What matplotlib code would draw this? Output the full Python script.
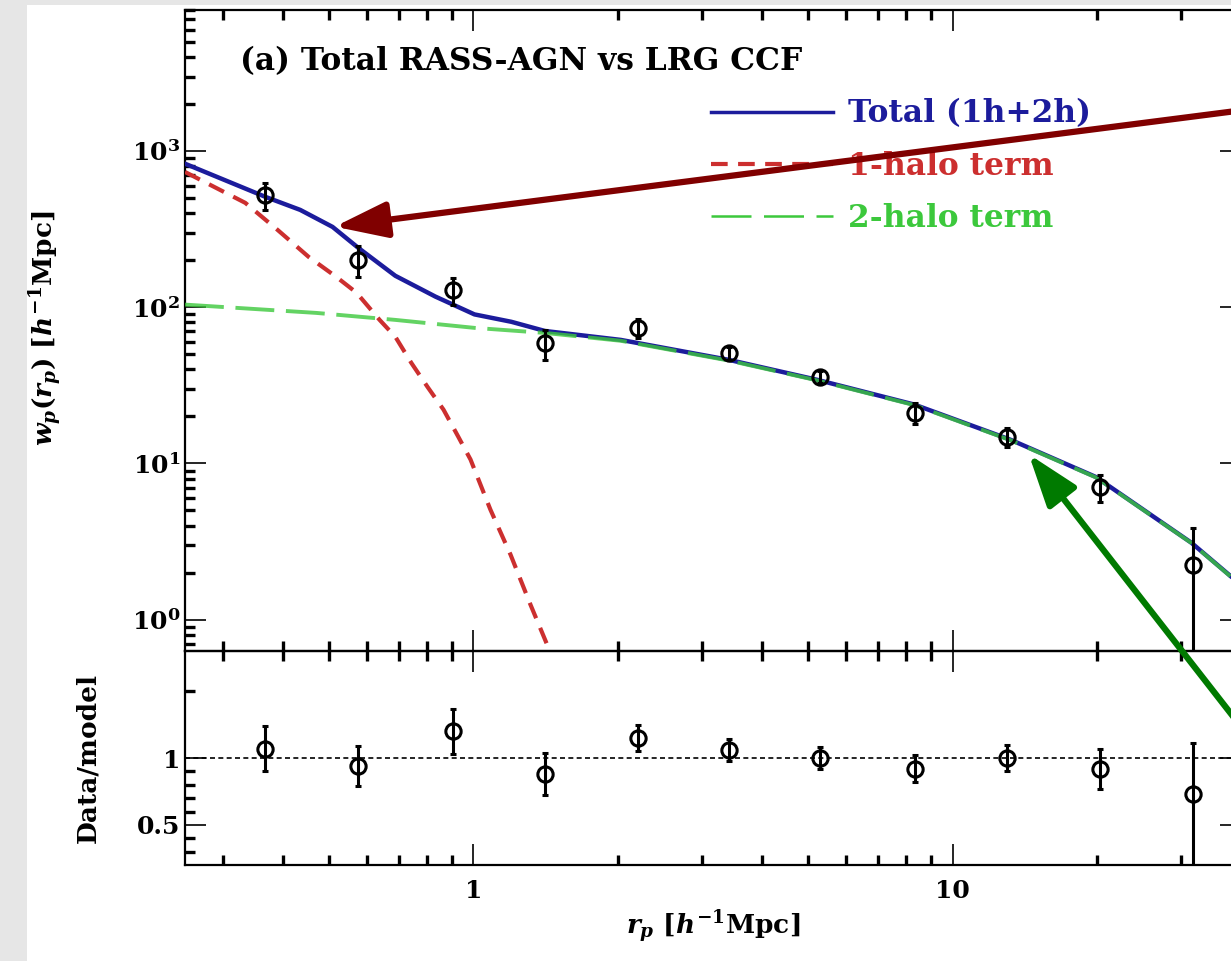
import matplotlib
matplotlib.use('Agg')
import matplotlib.pyplot as plt
from matplotlib.ticker import FixedLocator, FixedFormatter, NullFormatter, LogLocator
from matplotlib.lines import Line2D
from matplotlib.patches import Rectangle, FancyArrowPatch

plt.rcParams['font.family'] = ['DejaVu Serif']
plt.rcParams['font.weight'] = 'bold'
plt.rcParams['axes.labelweight'] = 'bold'
plt.rcParams['mathtext.fontset'] = 'custom'
plt.rcParams['mathtext.rm'] = 'DejaVu Serif:bold'
plt.rcParams['mathtext.it'] = 'DejaVu Serif:italic:bold'
plt.rcParams['mathtext.bf'] = 'DejaVu Serif:bold'

# measured points
rp = [0.368, 0.575, 0.908, 1.41, 2.21, 3.42, 5.28, 8.33, 12.97, 20.3, 31.7]
wp = [524, 201, 129, 59, 73.8, 51, 35.9, 21.1, 14.8, 7.08, 2.24]
wp_err = [105, 45, 26, 13, 10, 5, 3, 3.3, 2, 1.4, 1.63]
ratio = [1.07, 0.94, 1.20, 0.88, 1.15, 1.06, 1.0, 0.92, 1.0, 0.92, 0.73]
ratio_lo = [0.17, 0.15, 0.17, 0.16, 0.10, 0.08, 0.08, 0.10, 0.10, 0.15, 0.60]
ratio_hi = [0.17, 0.15, 0.17, 0.16, 0.10, 0.08, 0.08, 0.10, 0.10, 0.15, 0.38]

# model curves
r_tot = [0.25, 0.368, 0.435, 0.508, 0.575, 0.687, 0.833, 1.005, 1.2, 1.41, 2.03, 3.42, 5.22, 8.33, 13.2, 19.9, 31.5, 38.2, 40]
w_tot = [830, 509, 420, 327, 240, 159, 117, 90, 80.7, 70.5, 61.8, 46, 34.3, 23.8, 14.2, 8.2, 3.11, 1.88, 1.75]

r_2h = [0.25, 0.47, 0.687, 1.005, 1.41, 2.03, 3.42, 5.22, 8.33, 13.2, 19.9, 31.5, 38.2, 40]
w_2h = [104, 92, 83, 73.8, 68.5, 61, 45.5, 34, 23.6, 14.1, 8.15, 3.1, 1.87, 1.74]

r_1h = [0.25, 0.334, 0.39, 0.453, 0.518, 0.57, 0.637, 0.687, 0.742, 0.802, 0.866, 0.93, 0.986, 1.085, 1.195, 1.315, 1.44, 1.5]
w_1h = [735, 466, 313, 210, 156, 124, 83, 64.7, 44, 30.9, 22.1, 14.8, 10.6, 5.06, 2.61, 1.25, 0.64, 0.5]

BLUE = '#1c1c9c'
RED = '#cc2f2f'
GREEN = '#3cc83c'

W, H = 1231, 961
fig = plt.figure(figsize=(W / 100, H / 100), dpi=100, facecolor='#e6e6e6')
fig.patches.append(Rectangle((27 / W, 0), 1, 1 - 5 / H, transform=fig.transFigure,
                             facecolor='white', edgecolor='none', zorder=-10))

left = 185 / W
width = (1241 - 185) / W
ax = fig.add_axes([left, 1 - 651 / H, width, (651 - 10) / H])
ax2 = fig.add_axes([left, 1 - 865 / H, width, (865 - 651) / H])
for a in (ax, ax2):
    a.set_facecolor('none')
    for s in a.spines.values():
        s.set_linewidth(1.6)

# top panel
ax.plot(r_tot, w_tot, color=BLUE, lw=3.2, zorder=3)
ax.plot(r_1h, w_1h, color=RED, lw=3.0, dashes=(4, 2.5), zorder=4)
ax.plot(r_2h, w_2h, color=GREEN, lw=2.8, dashes=(10, 3), alpha=0.8, zorder=4)
ax.errorbar(rp, wp, yerr=wp_err, fmt='o', ms=11, mfc='none', mec='black', mew=2.2,
            ecolor='black', elinewidth=2.2, capsize=2, capthick=2, zorder=5)
ax.set_xscale('log')
ax.set_yscale('log')
ax.set_xlim(0.25, 40)
ax.set_ylim(0.63, 8000)

fig.text(240 / W, 1 - 62 / H, '(a) Total RASS-AGN vs LRG CCF',
         fontsize=22.5, fontweight='bold', va='center', ha='left')

handles = [Line2D([], [], color=BLUE, lw=2.5),
           Line2D([], [], color=RED, lw=3, dashes=(4, 2.5)),
           Line2D([], [], color=GREEN, lw=1.8, dashes=(16, 5))]
leg = ax.legend(handles, ['Total (1h+2h)', '1-halo term', '2-halo term'],
                loc='upper left', bbox_to_anchor=(0.498, 0.862), frameon=False,
                prop={'size': 22.5, 'weight': 'bold'}, handlelength=3.9,
                handletextpad=0.5, labelspacing=0.68, borderpad=0, borderaxespad=0)
for t, c in zip(leg.get_texts(), [BLUE, RED, GREEN]):
    t.set_color(c)

ax.set_ylabel(r'$w_p(r_p)$ [$h^{-1}$Mpc]', fontsize=19)
ax.yaxis.set_major_locator(FixedLocator([1, 10, 100, 1000]))
ax.yaxis.set_major_formatter(FixedFormatter([r'$\mathbf{10^0}$', r'$\mathbf{10^1}$',
                                             r'$\mathbf{10^2}$', r'$\mathbf{10^3}$']))
ax.yaxis.set_minor_locator(LogLocator(base=10, subs=range(2, 10), numticks=20))
ax.yaxis.set_minor_formatter(NullFormatter())

# bottom panel
ax2.axhline(1.0, color='black', lw=1.2, dashes=(3, 2), zorder=1)
ax2.errorbar(rp, ratio, yerr=[ratio_lo, ratio_hi], fmt='o', ms=11, mfc='none', mec='black',
             mew=2.2, ecolor='black', elinewidth=2.2, capsize=2, capthick=2, zorder=5)
ax2.set_xscale('log')
ax2.set_xlim(0.25, 40)
ax2.set_ylim(0.2, 1.8)
ax2.set_ylabel('Data/model', fontsize=19)
ax2.set_xlabel(r'$r_p$ [$h^{-1}$Mpc]', fontsize=19, labelpad=4)
ax2.yaxis.set_major_locator(FixedLocator([0.5, 1.0]))
ax2.yaxis.set_major_formatter(FixedFormatter(['0.5', '1']))
ax2.yaxis.set_minor_locator(FixedLocator([0.3, 0.4, 0.6, 0.7, 0.8, 0.9, 1.5]))

for a in (ax, ax2):
    a.xaxis.set_major_locator(FixedLocator([1, 10]))
    a.xaxis.set_major_formatter(FixedFormatter(['1', '10']))
    a.xaxis.set_minor_locator(LogLocator(base=10, subs=range(2, 10), numticks=20))
    a.xaxis.set_minor_formatter(NullFormatter())
    a.tick_params(which='both', direction='in', top=True, right=True, labelsize=18)
    a.tick_params(which='major', length=15, width=1.2)
    a.tick_params(which='minor', length=7, width=2.4)
ax.tick_params(axis='x', labelbottom=False)
ax2.tick_params(axis='x', which='major', pad=10)

ax.yaxis.set_label_coords(65 / W, 1 - 328 / H, transform=fig.transFigure)
ax2.yaxis.set_label_coords(100 / W, 1 - 758 / H, transform=fig.transFigure)

# annotation arrows
fig.patches.append(FancyArrowPatch((1400 / W, 1 - 90 / H), (332 / W, 1 - 227 / H),
                                   transform=fig.transFigure, color='#800000', lw=4.5,
                                   arrowstyle='-|>,head_length=1.6,head_width=0.55',
                                   mutation_scale=20, zorder=10))
fig.patches.append(FancyArrowPatch((1320 / W, 1 - 828 / H), (1027 / W, 1 - 452 / H),
                                   transform=fig.transFigure, color='#007a00', lw=4.5,
                                   arrowstyle='-|>,head_length=1.6,head_width=0.55',
                                   mutation_scale=20, zorder=10))

fig.savefig('out.png', dpi=100, facecolor=fig.get_facecolor())
